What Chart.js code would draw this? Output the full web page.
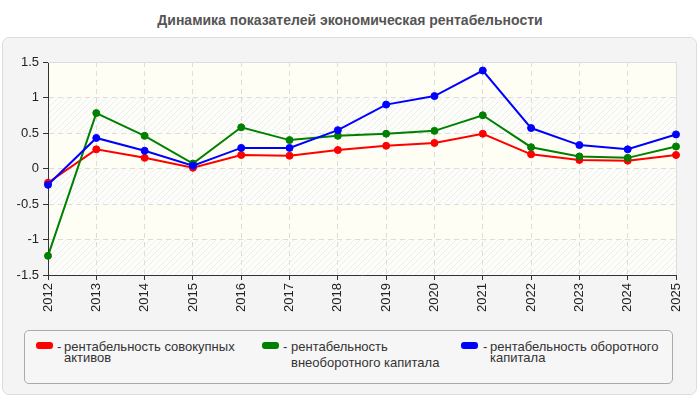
<!DOCTYPE html>
<html><head><meta charset="utf-8">
<script src="https://cdn.jsdelivr.net/npm/chart.js@4"></script>
<style>
html,body{margin:0;padding:0;background:#fff;width:700px;height:400px;overflow:hidden;font-family:"Liberation Sans",Arial,sans-serif;}
#title{position:absolute;left:0;top:11px;width:700px;text-align:center;font-weight:bold;font-size:14px;color:#555;line-height:18px;}
#box{position:absolute;left:2px;top:37px;width:693px;height:356px;border:1px solid #ddd;border-radius:7px;background:#f4f4f4;}
#c{position:absolute;left:0;top:0;}
#legend{position:absolute;left:24px;top:330px;width:647px;height:52px;border:1px solid #aaa;border-radius:5px;background:#f6f6f6;font-size:13px;color:#333;}
.sw{position:absolute;top:11px;width:17px;height:7px;border-radius:3px;}
.dash{position:absolute;line-height:11px;top:10px;}
.txt{position:absolute;white-space:nowrap;}
</style>
</head><body>
<div id="title">Динамика показателей экономическая рентабельности</div>
<div id="box"></div>
<canvas id="c" width="700" height="400"></canvas>
<div id="legend">
  <div class="sw" style="left:11px;background:#ff0000"></div>
  <div class="dash" style="left:32px">-</div>
  <div class="txt" style="left:39px;top:10px;line-height:11px">рентабельность совокупных<br>активов</div>
  <div class="sw" style="left:237px;background:#008000"></div>
  <div class="dash" style="left:258px">-</div>
  <div class="txt" style="left:266px;top:8px;line-height:15.5px">рентабельность<br>внеоборотного капитала</div>
  <div class="sw" style="left:436px;background:#0000ff"></div>
  <div class="dash" style="left:458px">-</div>
  <div class="txt" style="left:465px;top:10px;line-height:11px">рентабельность оборотного<br>капитала</div>
</div>
<script>
const years = ['2012','2013','2014','2015','2016','2017','2018','2019','2020','2021','2022','2023','2024','2025'];
const totalAssets = [-0.20, 0.27, 0.15, 0.01, 0.19, 0.18, 0.26, 0.32, 0.36, 0.49, 0.20, 0.12, 0.11, 0.19];
const nonCurrentCapital = [-1.23, 0.78, 0.46, 0.07, 0.58, 0.40, 0.46, 0.49, 0.53, 0.75, 0.30, 0.17, 0.15, 0.31];
const currentCapital = [-0.23, 0.43, 0.25, 0.04, 0.29, 0.29, 0.54, 0.90, 1.02, 1.38, 0.57, 0.33, 0.27, 0.48];
const yTicks = [-1.5, -1, -0.5, 0, 0.5, 1, 1.5];
const yTickLabels = ['-1.5', '-1', '-0.5', '0', '0.5', '1', '1.5'];

const FONT = '"Liberation Sans", Arial, sans-serif';

function makePattern(ctx){
  const c = document.createElement('canvas');
  c.width = 6; c.height = 6;
  const g = c.getContext('2d');
  g.fillStyle = '#fdfdfa'; g.fillRect(0,0,6,6);
  g.strokeStyle = '#ededed'; g.lineWidth = 1;
  g.beginPath();
  g.moveTo(0,6); g.lineTo(6,0);
  g.moveTo(-1,1); g.lineTo(1,-1);
  g.moveTo(5,7); g.lineTo(7,5);
  g.stroke();
  return ctx.createPattern(c,'repeat');
}

const bandPlugin = {
  id: 'bands',
  beforeDraw(chart){
    const {ctx, chartArea: a, scales: {y}} = chart;
    const pat = makePattern(ctx);
    ctx.save();
    for (let i = 0; i < yTicks.length - 1; i++){
      const top = y.getPixelForValue(yTicks[i+1]);
      const bot = y.getPixelForValue(yTicks[i]);
      ctx.fillStyle = (i % 2 === 0) ? pat : '#fefef5';
      ctx.fillRect(a.left, top, a.right - a.left, bot - top);
    }
    ctx.restore();
  },
  beforeDatasetsDraw(chart){
    const {ctx, chartArea: a} = chart;
    ctx.save();
    ctx.strokeStyle = '#dddddd'; ctx.lineWidth = 1;
    ctx.beginPath();
    ctx.moveTo(a.left, a.top + 0.5); ctx.lineTo(a.right + 0.5, a.top + 0.5); ctx.lineTo(a.right + 0.5, a.bottom);
    ctx.stroke();
    ctx.restore();
  }
};

function ds(label, data, color, order){
  return {label, data, borderColor: color, backgroundColor: color, pointBackgroundColor: color,
    pointBorderColor: color, borderWidth: 2, pointRadius: 3.5, pointBorderWidth: 1, tension: 0, order};
}

new Chart(document.getElementById('c'), {
  type: 'line',
  data: {
    labels: years,
    datasets: [
      ds('рентабельность совокупных активов', totalAssets, '#ff0000', 2),
      ds('рентабельность внеоборотного капитала', nonCurrentCapital, '#008000', 1),
      ds('рентабельность оборотного капитала', currentCapital, '#0000ff', 0)
    ]
  },
  options: {
    responsive: false,
    animation: false,
    layout: {padding: {top: 62, right: 24, left: 0, bottom: 0}},
    plugins: {legend: {display: false}, title: {display: false}, tooltip: {enabled: false}},
    scales: {
      x: {
        offset: false,
        grid: {color: '#dddddd', tickColor: '#333', tickLength: 5, drawTicks: true},
        border: {color: '#333', dash: [5,4]},
        ticks: {minRotation: 90, maxRotation: 90, color: '#222', font: {size: 13, family: FONT}, padding: 3, autoSkip: false},
        afterFit: s => { s.height = 125; }
      },
      y: {
        min: -1.5, max: 1.5,
        afterBuildTicks: s => { s.ticks = yTicks.map(v => ({value: v})); },
        grid: {color: '#dddddd', tickColor: '#333', tickLength: 5, drawTicks: true},
        border: {color: '#333', dash: [5,4]},
        ticks: {color: '#222', font: {size: 13, family: FONT}, padding: 4,
          callback: (v) => yTickLabels[yTicks.indexOf(v)] ?? String(v)},
        afterFit: s => { s.width = 48; }
      }
    }
  },
  plugins: [bandPlugin]
});
</script>
</body></html>
